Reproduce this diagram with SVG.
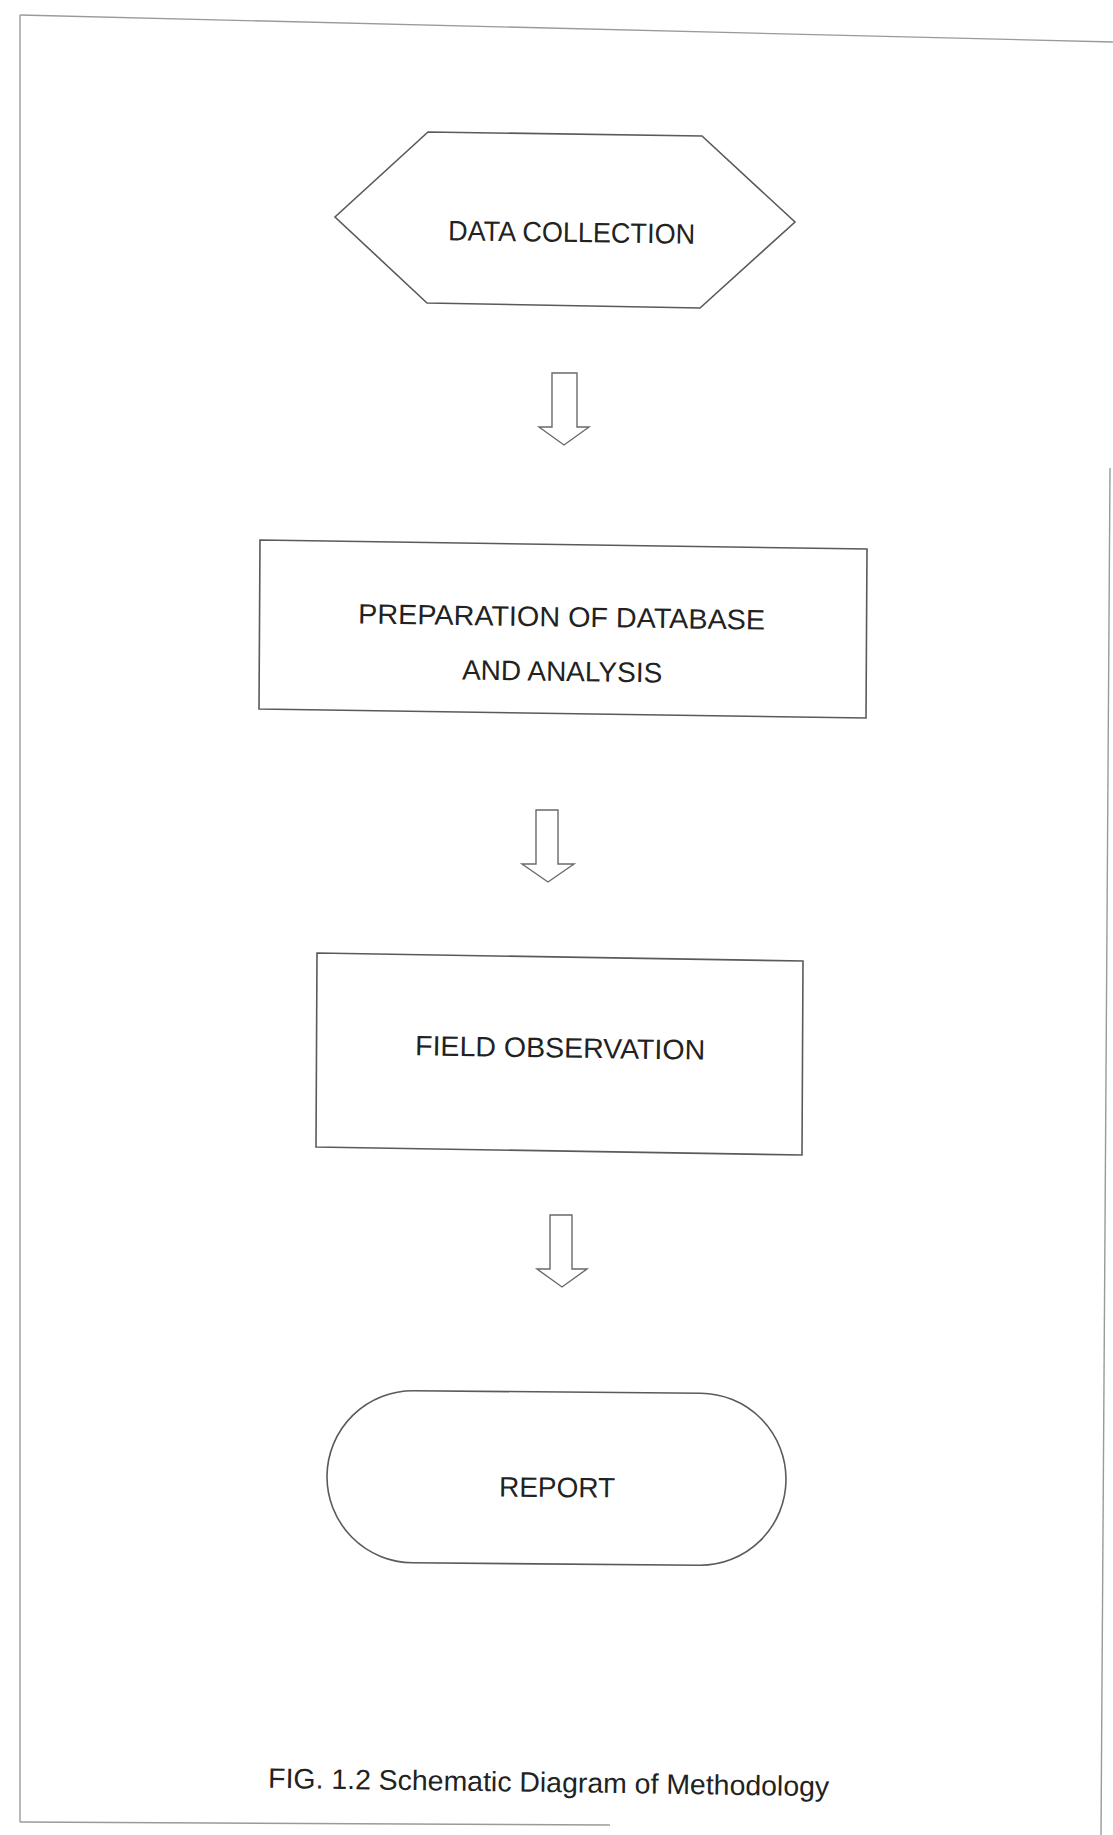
<svg xmlns="http://www.w3.org/2000/svg" width="1113" height="1835" viewBox="0 0 1113 1835">
  <style>
    .shape { fill: #ffffff; stroke: #5a5a5a; stroke-width: 1.6; stroke-linejoin: miter; }
    .arrow { fill: #ffffff; stroke: #6a6a6a; stroke-width: 1.4; stroke-linejoin: miter; }
    .border { fill: none; stroke: #9a9a9a; stroke-width: 1.4; }
    .label { font-family: "Liberation Sans", Arial, sans-serif; font-size: 28px; fill: #222222; text-anchor: middle; }
  </style>
  <rect x="0" y="0" width="1113" height="1835" fill="#ffffff"/>

  <g id="page-border">
    <path class="border" d="M20,15 L1113,42"/>
    <path class="border" d="M20,15 L20,1822"/>
    <path class="border" d="M1110,468 L1101,1835"/>
    <path class="border" d="M20,1822 L610,1825"/>
  </g>

  <g id="connectors">
    <path class="arrow" d="M552,373 L577,373 L577,427 L589,427 L564,445 L539,427 L552,427 Z"/>
    <path class="arrow" d="M536,810 L558,810 L558,864 L574,864 L548,882 L522,864 L536,864 Z"/>
    <path class="arrow" d="M550,1215 L572,1215 L572,1269 L587,1269 L562,1287 L537,1269 L550,1269 Z"/>
  </g>

  <g id="node-data-collection">
    <polygon class="shape" points="428,132 702,136 795,222 700,308 427,303 335,217"/>
    <text class="label" x="571.5" y="242" font-size="27" textLength="247" lengthAdjust="spacingAndGlyphs" transform="rotate(0.85 571.5 242)">DATA COLLECTION</text>
  </g>

  <g id="node-preparation">
    <polygon class="shape" points="260,540 867,549 866,718 259,709"/>
    <text class="label" x="561.5" y="626.5" textLength="407" lengthAdjust="spacingAndGlyphs" transform="rotate(0.85 561.5 626.5)">PREPARATION OF DATABASE</text>
    <text class="label" x="562" y="681" transform="rotate(0.85 562 681)">AND ANALYSIS</text>
  </g>

  <g id="node-field-observation">
    <polygon class="shape" points="317,953 803,961 802,1155 316,1147"/>
    <text class="label" x="560" y="1057.5" textLength="290" lengthAdjust="spacingAndGlyphs" transform="rotate(0.85 560 1057.5)">FIELD OBSERVATION</text>
  </g>

  <g id="node-report">
    <rect class="shape" x="327" y="1392" width="459" height="172" rx="86" ry="86" transform="rotate(0.5 556.5 1478)"/>
    <text class="label" x="557" y="1497" transform="rotate(0.5 557 1497)">REPORT</text>
  </g>

  <g id="caption">
    <text class="label" x="548.5" y="1792" textLength="561" lengthAdjust="spacingAndGlyphs" transform="rotate(0.85 548.5 1792)">FIG. 1.2 Schematic Diagram of Methodology</text>
  </g>
</svg>
